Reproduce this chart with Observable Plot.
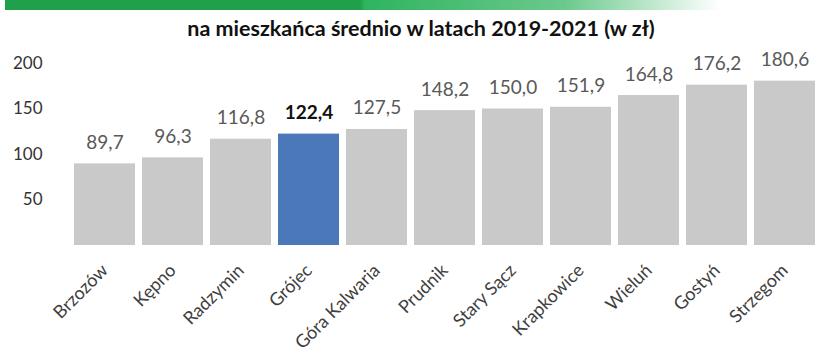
<!DOCTYPE html>
<html>
<head>
<meta charset="utf-8">
<script src="https://cdn.jsdelivr.net/npm/d3@7"></script>
<script src="https://cdn.jsdelivr.net/npm/@observablehq/plot@0.6"></script>
<style>
  html, body { margin: 0; padding: 0; background: #fff; }
  body { width: 817px; height: 356px; overflow: hidden; position: relative; font-family: Lato, "Open Sans", sans-serif; }
  #topbar { position: absolute; left: 5px; top: 0px; width: 720px; height: 10px;
    background: linear-gradient(to right, #21a04c 0px, #21a04c 355px, #2fb45e 360px, #6cc98d 560px, #ffffff 715px); }
  #title { position: absolute; left: 0; top: 15px; width: 842px; text-align: center; font-weight: 700; font-size: 21.5px; line-height: 26px; color: #111; }
  #chart { position: absolute; left: 0; top: 40px; }
</style>
</head>
<body>
<div id="topbar"></div>
<div id="title">na mieszkańca średnio w latach 2019-2021 (w zł)</div>
<div id="chart"></div>
<script>
const categories = ["Brzozów", "Kępno", "Radzymin", "Grójec", "Góra Kalwaria", "Prudnik", "Stary Sącz", "Krapkowice", "Wieluń", "Gostyń", "Strzegom"];
const values = [89.7, 96.3, 116.8, 122.4, 127.5, 148.2, 150.0, 151.9, 164.8, 176.2, 180.6];
const highlight = "Grójec";
const yTicks = [50, 100, 150, 200];

const data = categories.map((c, i) => ({name: c, value: values[i], hl: c === highlight}));
const fmt = v => v.toFixed(1).replace(".", ",");

const chart = Plot.plot({
  width: 817,
  height: 316,
  marginTop: 23,
  marginBottom: 111,
  marginLeft: 67,
  marginRight: 0,
  style: {fontFamily: "Lato, 'Open Sans', sans-serif", background: "transparent"},
  x: {domain: categories, padding: 0.1, range: [67, 823], axis: null, label: null},
  y: {domain: [0, 200], axis: null, label: null},
  marks: [
    Plot.barY(data, {x: "name", y: "value", fill: d => d.hl ? "#4a78b8" : "#c9c9c9"}),
    Plot.text(data.filter(d => !d.hl), {x: "name", y: "value", text: d => fmt(d.value), dy: -15, lineAnchor: "bottom", fontSize: 19, fill: "#595959"}),
    Plot.text(data.filter(d => d.hl), {x: "name", y: "value", text: d => fmt(d.value), dy: -15, lineAnchor: "bottom", fontSize: 19, fontWeight: 700, fill: "#111"}),
    Plot.axisY(yTicks, {tickSize: 0, tickPadding: 0, dx: -25, fontSize: 17, fill: "#333", textAnchor: "end", anchor: "left", label: null}),
    Plot.axisX({tickSize: 0, tickRotate: -45, tickPadding: 22, fontSize: 18, fill: "#404040", label: null})
  ]
});
document.getElementById("chart").appendChild(chart);
</script>
</body>
</html>
